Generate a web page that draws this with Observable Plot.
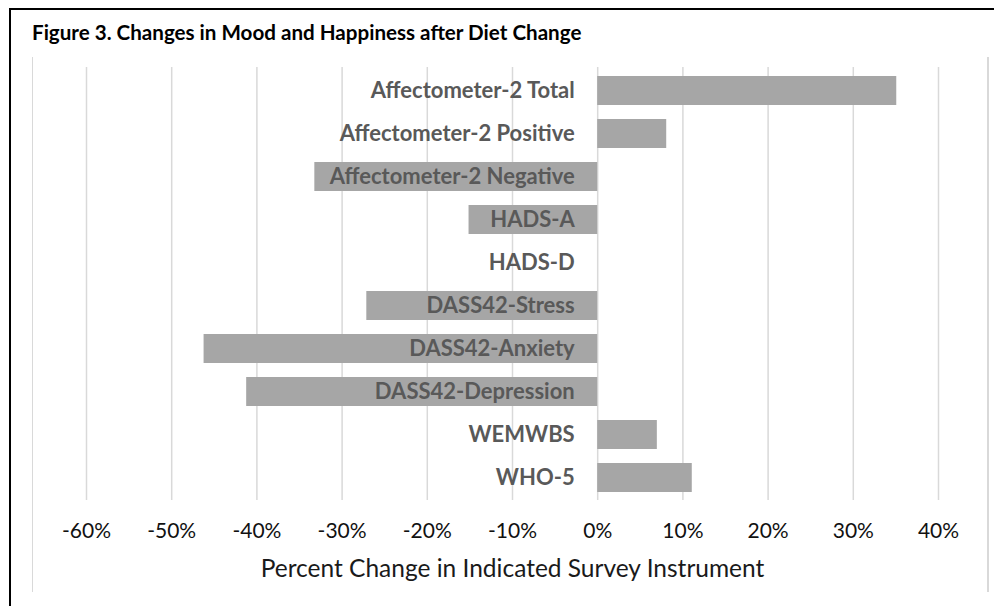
<!DOCTYPE html>
<html>
<head>
<meta charset="utf-8">
<script src="https://cdn.jsdelivr.net/npm/d3@7"></script>
<script src="https://cdn.jsdelivr.net/npm/@observablehq/plot@0.6"></script>
<style>
  html, body { margin: 0; padding: 0; background: #fff; }
  #wrap { position: relative; width: 994px; height: 606px; overflow: hidden; background: #fff; }
  #wrap svg { position: absolute; left: 0; top: 0; }
  .title { position: absolute; left: 32px; top: 20px; font-family: Lato, "Open Sans", sans-serif; font-weight: 700; font-size: 20.6px; line-height: 1.2; color: #000; white-space: nowrap; }
  .bt { position: absolute; left: 10px; top: 8px; width: 984px; height: 2px; background: #000; }
  .bl { position: absolute; left: 9px; top: 8px; width: 2px; height: 598px; background: #000; }
  .fl { position: absolute; width: 1.5px; top: 57px; height: 535px; background: #d9d9d9; }
</style>
</head>
<body>
<div id="wrap">
  <div class="bt"></div>
  <div class="bl"></div>
  <div class="fl" style="left:31.5px"></div>
  <div class="fl" style="left:987px"></div>
  <div class="title">Figure 3. Changes in Mood and Happiness after Diet Change</div>
</div>
<script>
const categories = [
  "Affectometer-2 Total",
  "Affectometer-2 Positive",
  "Affectometer-2 Negative",
  "HADS-A",
  "HADS-D",
  "DASS42-Stress",
  "DASS42-Anxiety",
  "DASS42-Depression",
  "WEMWBS",
  "WHO-5"
];
const values = [35.1, 8.1, -33.2, -15.1, 0, -27.1, -46.2, -41.2, 7.0, 11.1];
const xTicks = [-60, -50, -40, -30, -20, -10, 0, 10, 20, 30, 40];
const axisTitle = "Percent Change in Indicated Survey Instrument";

const data = categories.map((c, i) => ({category: c, value: values[i]}));

const chart = Plot.plot({
  width: 994,
  height: 606,
  marginLeft: 86,
  marginRight: 56,
  marginTop: 67,
  marginBottom: 106,
  style: {fontFamily: "Lato, 'Open Sans', sans-serif", background: "transparent"},
  x: {domain: [-60, 40], ticks: xTicks},
  y: {domain: categories, paddingInner: 0.33, paddingOuter: 0.165, axis: null},
  marks: [
    Plot.gridX(xTicks, {stroke: "#d9d9d9", strokeOpacity: 1, strokeWidth: 1.5}),
    Plot.barX(data, {x1: 0, x2: "value", y: "category", fill: "#a6a6a6"}),
    Plot.text(data, {x: 0, y: "category", text: "category", textAnchor: "end", dx: -23,
      fill: "#595959", fontWeight: "bold", fontSize: 22}),
    Plot.axisX(xTicks, {tickSize: 0, tickPadding: 23, fontSize: 21, fill: "#111",
      tickFormat: d => d + "%", label: null}),
    Plot.axisX({ticks: [], tickSize: 0, label: axisTitle, labelAnchor: "center",
      labelOffset: 76, fontSize: 24.5, fill: "#1a1a1a", labelArrow: "none"})
  ]
});
document.getElementById("wrap").prepend(chart);
</script>
</body>
</html>
